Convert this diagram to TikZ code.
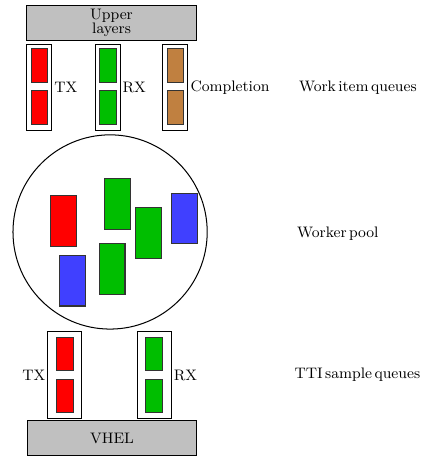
\documentclass[tikz,border=0pt]{standalone}
\usetikzlibrary{positioning}
\definecolor{qred}{RGB}{255,0,0}
\definecolor{qgreen}{RGB}{0,190,0}
\definecolor{qblue}{RGB}{64,64,255}
\definecolor{qbrown}{RGB}{192,128,64}
\definecolor{layergray}{RGB}{192,192,192}
\newcommand{\tightwords}{\spaceskip=1.4pt plus 0.2pt\relax}
\begin{document}
\begin{tikzpicture}[inner sep=0pt,outer sep=0pt,semithick,
layer/.style={draw,fill=layergray,rectangle,minimum width=3.53cm,minimum height=0.71cm,align=center,font=\small},
queue/.style={draw,rectangle,minimum width=0.52cm,minimum height=1.77cm},
ttiqueue/.style={draw,rectangle,minimum width=0.71cm,minimum height=1.79cm},
item/.style={draw=black!80,rectangle,minimum width=0.35cm,minimum height=0.7cm},
worker/.style={draw=black!80,rectangle,minimum width=0.54cm,minimum height=1.06cm},
lbl/.style={inner sep=1.5pt,font=\small},
caption/.style={anchor=west,font=\small\tightwords}]
\useasboundingbox (0,0) rectangle (8.757,9.485);

% upper layers and work item queues
\draw (2.32,9.006) node[layer] (upper) {Upper\\[-3pt]layers};
\draw (0.82,7.665) node[queue] (wtx) {};
\draw (2.24,7.665) node[queue] (wrx) {};
\draw (3.65,7.665) node[queue] (wcmp) {};
\draw (0.82,8.12) node[item,fill=qred] (wtx1) {};
\draw (0.82,7.25) node[item,fill=qred] (wtx2) {};
\draw (2.24,8.12) node[item,fill=qgreen] (wrx1) {};
\draw (2.24,7.25) node[item,fill=qgreen] (wrx2) {};
\draw (3.65,8.12) node[item,fill=qbrown] (wcmp1) {};
\draw (3.65,7.25) node[item,fill=qbrown] (wcmp2) {};
\node[lbl,right=0pt of wtx] {TX};
\node[lbl,right=0pt of wrx] {RX};
\node[lbl,right=0pt of wcmp] {Completion};
\draw (6.22,7.665) node[caption] (wlabel) {Work item queues};

% worker pool
\draw (2.29,4.66) node[draw,circle,minimum size=4.04cm] (pool) {};
\draw (1.33,4.88) node[worker,fill=qred] (w1) {};
\draw (2.45,5.25) node[worker,fill=qgreen] (w2) {};
\draw (3.08,4.63) node[worker,fill=qgreen] (w3) {};
\draw (3.83,4.94) node[worker,fill=qblue] (w4) {};
\draw (1.50,3.65) node[worker,fill=qblue] (w5) {};
\draw (2.33,3.88) node[worker,fill=qgreen] (w6) {};
\draw (6.18,4.62) node[caption] (plabel) {Worker pool};

% TTI sample queues and VHEL
\draw (1.35,1.685) node[ttiqueue] (ttx) {};
\draw (3.21,1.685) node[ttiqueue] (trx) {};
\draw (1.35,2.12) node[item,fill=qred] (ttx1) {};
\draw (1.35,1.25) node[item,fill=qred] (ttx2) {};
\draw (3.21,2.12) node[item,fill=qgreen] (trx1) {};
\draw (3.21,1.25) node[item,fill=qgreen] (trx2) {};
\node[lbl,left=0pt of ttx] {TX};
\node[lbl,right=0pt of trx] {RX};
\draw (2.33,0.374) node[layer] (vhel) {VHEL};
\draw (8.74,1.685) node[caption,anchor=east] (tlabel) {TTI sample queues};
\end{tikzpicture}
\end{document}
